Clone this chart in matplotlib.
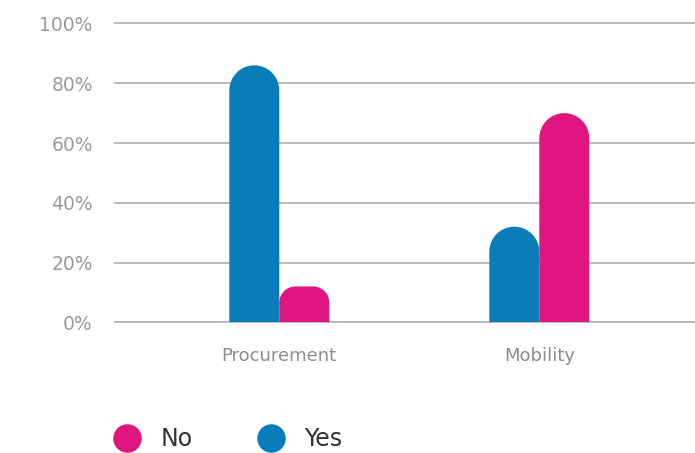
import matplotlib
matplotlib.use("Agg")
import matplotlib.pyplot as plt
from matplotlib.path import Path
from matplotlib.patches import PathPatch
from matplotlib.lines import Line2D

categories = ["Procurement", "Mobility"]
yes_values = [86, 32]
no_values = [12, 70]
y_ticks = [0, 20, 40, 60, 80, 100]
y_tick_labels = ["0%", "20%", "40%", "60%", "80%", "100%"]

BLUE = "#0b7cba"
PINK = "#e01680"
GRID = "#b3b3b3"
TICK = "#9a9a9a"

W, H, DPI = 695, 453, 100
fig = plt.figure(figsize=(W / DPI, H / DPI), dpi=DPI)
fig.patch.set_facecolor("white")

# axes box in pixels: x 115..695, y (from top) 23.5..322.3
left, right = 115, 695
top, bottom = 23.5, 322.3
ax = fig.add_axes([left / W, 1 - bottom / H, (right - left) / W, (bottom - top) / H])
ax.set_facecolor("white")

# category centres sit 260 px apart
px_per_x = 260.0
x_lo = -(279.3 - left) / px_per_x
x_hi = x_lo + (right - left) / px_per_x
ax.set_xlim(x_lo, x_hi)
ax.set_ylim(0, 100)
px_per_y = (bottom - top) / 100.0

bar_w = 50 / px_per_x
K = 0.5523


def rounded_bar(x0, width, height, color):
    """bar with flat bottom and rounded top corners (circular on screen)"""
    w_px = width * px_per_x
    h_px = height * px_per_y
    r_px = min(w_px / 2, h_px * 0.45)
    rx = r_px / px_per_x
    ry = r_px / px_per_y
    x1 = x0 + width
    verts = [
        (x0, 0), (x0, height - ry),
        (x0, height - ry + K * ry), (x0 + rx - K * rx, height), (x0 + rx, height),
        (x1 - rx, height),
        (x1 - rx + K * rx, height), (x1, height - ry + K * ry), (x1, height - ry),
        (x1, 0), (x0, 0),
    ]
    codes = [
        Path.MOVETO, Path.LINETO,
        Path.CURVE4, Path.CURVE4, Path.CURVE4,
        Path.LINETO,
        Path.CURVE4, Path.CURVE4, Path.CURVE4,
        Path.LINETO, Path.CLOSEPOLY,
    ]
    ax.add_patch(PathPatch(Path(verts, codes), facecolor=color,
                           edgecolor="none", zorder=3))


for i, (y, n) in enumerate(zip(yes_values, no_values)):
    rounded_bar(i - bar_w, bar_w, y, BLUE)
    rounded_bar(i, bar_w, n, PINK)

for t in y_ticks:
    ax.axhline(t, color=GRID, lw=1.3, zorder=1, clip_on=False)

for s in ax.spines.values():
    s.set_visible(False)
ax.set_yticks(y_ticks)
ax.set_yticklabels(y_tick_labels)
ax.tick_params(axis="y", length=0, pad=16, labelsize=13.5, labelcolor=TICK)
ax.set_xticks(range(len(categories)))
ax.set_xticklabels(categories)
ax.tick_params(axis="x", length=0, pad=18, labelsize=13, labelcolor="#8c8c8c")

handles = [
    Line2D([], [], ls="", marker="o", ms=19.5, color=PINK, label="No"),
    Line2D([], [], ls="", marker="o", ms=19.5, color=BLUE, label="Yes"),
]
fig.legend(handles=handles, loc="center left", ncol=2, frameon=False,
           bbox_to_anchor=(113 / W, 1 - 439 / H), fontsize=17,
           handlelength=1.2, handletextpad=0.8, columnspacing=2.75,
           labelcolor="#333333", borderaxespad=0, borderpad=0)

fig.savefig("out.png", dpi=DPI, facecolor="white")
